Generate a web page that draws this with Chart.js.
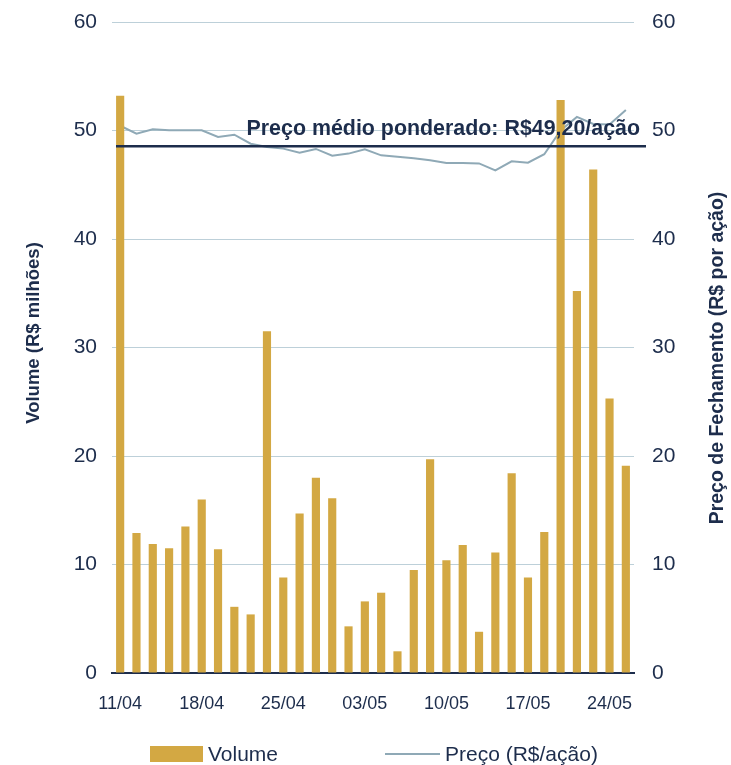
<!DOCTYPE html>
<html>
<head>
<meta charset="utf-8">
<script src="https://cdn.jsdelivr.net/npm/chart.js@4"></script>
<style>
  html, body { margin: 0; padding: 0; background: #fff; }
  #wrap { width: 731px; height: 765px; position: relative; }
</style>
</head>
<body>
<div id="wrap"><canvas id="chart"></canvas></div>
<script>
// trading days (dd/mm), labels shown every 5th day
const categories = [
  '11/04', '12/04', '13/04', '14/04', '15/04',
  '18/04', '19/04', '20/04', '21/04', '22/04',
  '25/04', '26/04', '27/04', '28/04', '29/04',
  '03/05', '04/05', '05/05', '06/05', '09/05',
  '10/05', '11/05', '12/05', '13/05', '16/05',
  '17/05', '18/05', '19/05', '20/05', '23/05',
  '24/05', '25/05'
];
// volume, R$ milhões
const volume = [
  53.2, 12.9, 11.9, 11.5, 13.5, 16.0, 11.4, 6.1, 5.4, 31.5,
  8.8, 14.7, 18.0, 16.1, 4.3, 6.6, 7.4, 2.0, 9.5, 19.7,
  10.4, 11.8, 3.8, 11.1, 18.4, 8.8, 13.0, 52.8, 35.2, 46.4,
  25.3, 19.1
];
// preço de fechamento, R$ por ação
const price = [
  50.44, 49.71, 50.11, 50.02, 50.02, 50.02, 49.40, 49.61, 48.78, 48.48,
  48.33, 47.96, 48.30, 47.68, 47.87, 48.26, 47.71, 47.59, 47.44, 47.25,
  47.00, 47.00, 46.97, 46.33, 47.16, 47.03, 47.81, 50.00, 51.25, 50.60,
  50.55, 51.90
];
const avgLineLevel = 48.55;
const avgLabel = 'Preço médio ponderado: R$49,20/ação';
const yTicksMin = 0, yTicksMax = 60, yStep = 10;

const NAVY = '#1D2D4C';
const GOLD = '#D3A843';
const LINE = '#8FA9B6';
const GRID = '#BDD0D9';
const FONT = "'Liberation Sans', Arial, sans-serif";

const overlay = {
  id: 'overlay',
  afterDatasetsDraw(chart) {
    const { ctx, chartArea } = chart;
    const y1 = chart.scales.y1;
    const yy = y1.getPixelForValue(avgLineLevel);
    ctx.save();
    // weighted average line
    ctx.strokeStyle = NAVY;
    ctx.lineWidth = 2.5;
    ctx.beginPath();
    ctx.moveTo(chartArea.left + 4, yy);
    ctx.lineTo(chartArea.right + 12, yy);
    ctx.stroke();
    ctx.fillStyle = NAVY;
    ctx.font = 'bold 21.4px ' + FONT;
    ctx.textAlign = 'right';
    ctx.textBaseline = 'alphabetic';
    ctx.fillText(avgLabel, chartArea.right + 6, yy - 11);
    ctx.restore();
  },
  afterDraw(chart) {
    const { ctx } = chart;
    const ds = chart.data.datasets;
    ctx.save();
    ctx.fillStyle = NAVY;
    ctx.textAlign = 'center';
    ctx.textBaseline = 'middle';
    // axis titles
    ctx.font = 'bold 18.5px ' + FONT;
    ctx.save();
    ctx.translate(34, 333);
    ctx.rotate(-Math.PI / 2);
    ctx.fillText('Volume (R$ milhões)', 0, 0);
    ctx.restore();
    ctx.font = 'bold 19.5px ' + FONT;
    ctx.save();
    ctx.translate(718, 358);
    ctx.rotate(-Math.PI / 2);
    ctx.fillText('Preço de Fechamento (R$ por ação)', 0, 0);
    ctx.restore();
    // legend
    ctx.font = '21px ' + FONT;
    ctx.textAlign = 'left';
    ctx.fillStyle = ds[0].backgroundColor;
    ctx.fillRect(150, 746, 53, 16);
    ctx.fillStyle = NAVY;
    ctx.fillText(ds[0].label, 208, 755);
    ctx.strokeStyle = ds[1].borderColor;
    ctx.lineWidth = 2;
    ctx.beginPath();
    ctx.moveTo(385, 754);
    ctx.lineTo(440, 754);
    ctx.stroke();
    ctx.fillText(ds[1].label, 445, 755);
    ctx.restore();
  }
};

const fitY = (w) => (s) => {
  s.width = w;
  s.paddingTop = 0;
  s.paddingBottom = 0;
};

new Chart(document.getElementById('chart'), {
  type: 'bar',
  data: {
    labels: categories,
    datasets: [
      {
        type: 'bar',
        label: 'Volume',
        data: volume,
        backgroundColor: GOLD,
        barPercentage: 0.5,
        categoryPercentage: 1,
        yAxisID: 'y',
        order: 1
      },
      {
        type: 'line',
        label: 'Preço (R$/ação)',
        data: price,
        borderColor: LINE,
        borderWidth: 2,
        pointRadius: 0,
        tension: 0,
        yAxisID: 'y1',
        order: 2
      }
    ]
  },
  options: {
    responsive: true,
    maintainAspectRatio: false,
    animation: false,
    layout: { padding: { top: 22, left: 0, right: 0, bottom: 0 } },
    plugins: {
      legend: { display: false },
      tooltip: { enabled: false }
    },
    scales: {
      x: {
        offset: true,
        grid: { display: false },
        border: { display: true, color: NAVY, width: 2 },
        ticks: {
          color: NAVY,
          font: { family: FONT, size: 18 },
          padding: 12,
          autoSkip: false,
          maxRotation: 0,
          callback: (v, i) => (i % 5 === 0 ? categories[i] : '')
        },
        afterFit: (s) => { s.height = 92; }
      },
      y: {
        position: 'left',
        min: yTicksMin,
        max: yTicksMax,
        grid: { color: GRID, lineWidth: 1, drawTicks: false },
        border: { display: false },
        ticks: {
          stepSize: yStep,
          color: NAVY,
          font: { family: FONT, size: 21 },
          padding: 15
        },
        afterFit: fitY(112)
      },
      y1: {
        position: 'right',
        min: yTicksMin,
        max: yTicksMax,
        grid: { display: false, drawTicks: false },
        border: { display: false },
        ticks: {
          stepSize: yStep,
          color: NAVY,
          font: { family: FONT, size: 21 },
          padding: 18
        },
        afterFit: fitY(97)
      }
    }
  },
  plugins: [overlay]
});
</script>
</body>
</html>
